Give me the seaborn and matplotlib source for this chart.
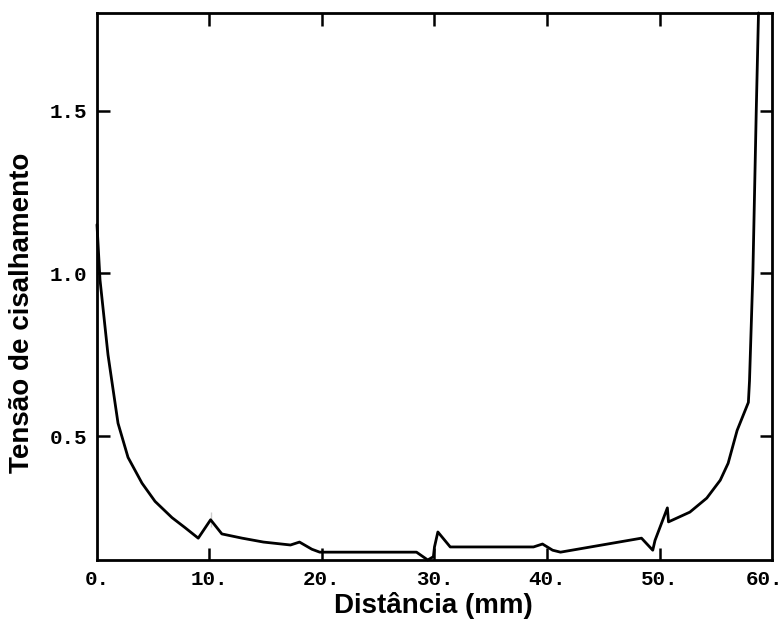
import pandas as pd
import seaborn as sns
import matplotlib.pyplot as plt
from matplotlib.transforms import ScaledTranslation

# values
dist = [0.0, 0.27, 0.98, 1.87, 2.76, 4.0, 5.16, 6.67, 7.8, 9.0, 10.1, 10.1, 11.1,
        12.9, 14.8, 17.2, 18.0, 19.1, 19.8, 28.4, 29.4, 29.9, 30.0, 30.3, 31.4,
        38.8, 39.6, 40.5, 41.2, 48.4, 49.4, 49.6, 50.7, 50.8, 52.7, 54.2, 55.4,
        56.1, 56.9, 57.9, 58.0, 58.3, 58.6, 58.8]
tensao = [1.15, 0.98, 0.75, 0.54, 0.435, 0.356, 0.30, 0.25, 0.22, 0.187, 0.267, 0.22, 0.20,
          0.187, 0.175, 0.166, 0.175, 0.153, 0.144, 0.144, 0.12, 0.13, 0.16, 0.206, 0.16,
          0.16, 0.169, 0.15, 0.144, 0.187, 0.15, 0.18, 0.28, 0.237, 0.267, 0.31, 0.365,
          0.417, 0.518, 0.604, 0.67, 1.0, 1.5, 1.80]

x_ticks = [0, 10, 20, 30, 40, 50, 60]
x_labels = ["0.", "10.", "20.", "30.", "40.", "50.", "60."]
y_ticks = [0.5, 1.0, 1.5]
y_labels = ["0.5", "1.0", "1.5"]

df = pd.DataFrame({"dist": dist, "tensao": tensao})

sns.set_style("ticks")
fig = plt.figure(figsize=(7.84, 6.27), dpi=100)
ax = fig.add_axes([0.1237, 0.1069, 0.861, 0.8724])

sns.lineplot(data=df, x="dist", y="tensao", sort=False, color="black",
             linewidth=2.0, ax=ax, clip_on=False)

ax.set_xlim(0, 60)
ax.set_ylim(0.12, 1.80)

ax.set_xticks(x_ticks)
ax.set_xticklabels(x_labels, family="Liberation Mono", fontsize=15, fontweight="bold")
ax.set_yticks(y_ticks)
ax.set_yticklabels(y_labels, family="Liberation Mono", fontsize=15, fontweight="bold")

# inner ticks on all four sides, no ticks at the corners
ax.tick_params(direction="in", length=9, width=1.8, top=True, right=True,
               colors="black", pad=7)
for t in ax.xaxis.get_major_ticks():
    if t.get_loc() in (0, 60):
        t.tick1line.set_visible(False)
        t.tick2line.set_visible(False)

# last x label sits a little left of its tick, as in the original
last = ax.get_xticklabels()[-1]
last.set_transform(last.get_transform() + ScaledTranslation(-8 / 100, 0, fig.dpi_scale_trans))

for sp in ax.spines.values():
    sp.set_linewidth(2)
    sp.set_color("black")

ax.set_xlabel("Distância (mm)", family="Liberation Sans", fontsize=20,
              fontweight="bold", color="black")
ax.set_ylabel("Tensão de cisalhamento", family="Liberation Sans", fontsize=20,
              fontweight="bold", color="black")
ax.xaxis.set_label_coords(0.499, -0.058)
ax.yaxis.set_label_coords(-0.092, 0.452)

fig.savefig("out.png", dpi=100)
